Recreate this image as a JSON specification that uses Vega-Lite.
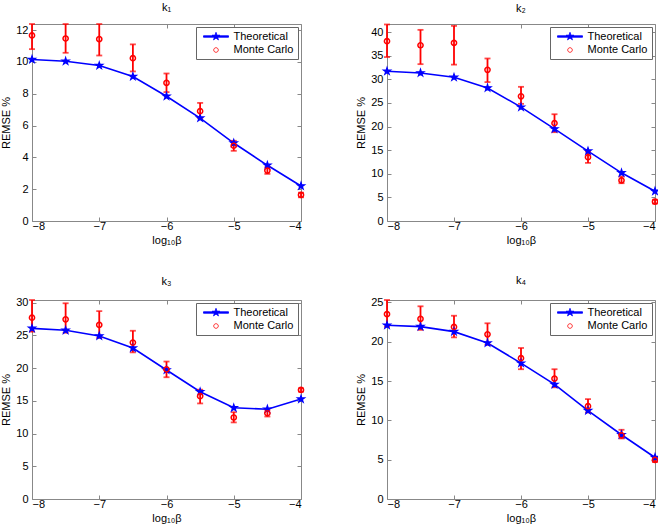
{
  "$schema": "https://vega.github.io/schema/vega-lite/v6.json",
  "background": "white",
  "padding": {"left": 0, "top": 1, "right": 3, "bottom": 2},
  "data": {"values": [
    {"panel":"k1","x":-8,"series":"Theoretical","value":10.15},
    {"panel":"k1","x":-7.5,"series":"Theoretical","value":10.04},
    {"panel":"k1","x":-7,"series":"Theoretical","value":9.77},
    {"panel":"k1","x":-6.5,"series":"Theoretical","value":9.08},
    {"panel":"k1","x":-6,"series":"Theoretical","value":7.84},
    {"panel":"k1","x":-5.5,"series":"Theoretical","value":6.47},
    {"panel":"k1","x":-5,"series":"Theoretical","value":4.9},
    {"panel":"k1","x":-4.5,"series":"Theoretical","value":3.5},
    {"panel":"k1","x":-4,"series":"Theoretical","value":2.2},
    {"panel":"k1","x":-8,"series":"Monte Carlo","value":11.66,"lo":10.8,"hi":12.38},
    {"panel":"k1","x":-7.5,"series":"Monte Carlo","value":11.47,"lo":10.57,"hi":12.38},
    {"panel":"k1","x":-7,"series":"Monte Carlo","value":11.43,"lo":10.4,"hi":12.38},
    {"panel":"k1","x":-6.5,"series":"Monte Carlo","value":10.23,"lo":9.4,"hi":11.1},
    {"panel":"k1","x":-6,"series":"Monte Carlo","value":8.68,"lo":8.1,"hi":9.27},
    {"panel":"k1","x":-5.5,"series":"Monte Carlo","value":6.9,"lo":6.47,"hi":7.42},
    {"panel":"k1","x":-5,"series":"Monte Carlo","value":4.73,"lo":4.41,"hi":5.04},
    {"panel":"k1","x":-4.5,"series":"Monte Carlo","value":3.17,"lo":2.96,"hi":3.38},
    {"panel":"k1","x":-4,"series":"Monte Carlo","value":1.64,"lo":1.49,"hi":1.78},

    {"panel":"k2","x":-8,"series":"Theoretical","value":31.7},
    {"panel":"k2","x":-7.5,"series":"Theoretical","value":31.34},
    {"panel":"k2","x":-7,"series":"Theoretical","value":30.42},
    {"panel":"k2","x":-6.5,"series":"Theoretical","value":28.16},
    {"panel":"k2","x":-6,"series":"Theoretical","value":24.1},
    {"panel":"k2","x":-5.5,"series":"Theoretical","value":19.5},
    {"panel":"k2","x":-5,"series":"Theoretical","value":14.8},
    {"panel":"k2","x":-4.5,"series":"Theoretical","value":10.2},
    {"panel":"k2","x":-4,"series":"Theoretical","value":6.3},
    {"panel":"k2","x":-8,"series":"Monte Carlo","value":38.06,"lo":34.7,"hi":41.6},
    {"panel":"k2","x":-7.5,"series":"Monte Carlo","value":37.2,"lo":33.2,"hi":40.46},
    {"panel":"k2","x":-7,"series":"Monte Carlo","value":37.7,"lo":33.1,"hi":41.3},
    {"panel":"k2","x":-6.5,"series":"Monte Carlo","value":32.0,"lo":29.4,"hi":34.4},
    {"panel":"k2","x":-6,"series":"Monte Carlo","value":26.4,"lo":24.8,"hi":28.4},
    {"panel":"k2","x":-5.5,"series":"Monte Carlo","value":20.7,"lo":18.8,"hi":22.6},
    {"panel":"k2","x":-5,"series":"Monte Carlo","value":13.5,"lo":12.3,"hi":14.7},
    {"panel":"k2","x":-4.5,"series":"Monte Carlo","value":8.6,"lo":8.0,"hi":9.4},
    {"panel":"k2","x":-4,"series":"Monte Carlo","value":4.1,"lo":3.7,"hi":4.5},

    {"panel":"k3","x":-8,"series":"Theoretical","value":26.07},
    {"panel":"k3","x":-7.5,"series":"Theoretical","value":25.77},
    {"panel":"k3","x":-7,"series":"Theoretical","value":24.9},
    {"panel":"k3","x":-6.5,"series":"Theoretical","value":23.06},
    {"panel":"k3","x":-6,"series":"Theoretical","value":19.7},
    {"panel":"k3","x":-5.5,"series":"Theoretical","value":16.38},
    {"panel":"k3","x":-5,"series":"Theoretical","value":13.93},
    {"panel":"k3","x":-4.5,"series":"Theoretical","value":13.72},
    {"panel":"k3","x":-4,"series":"Theoretical","value":15.26},
    {"panel":"k3","x":-8,"series":"Monte Carlo","value":27.7,"lo":25.56,"hi":30.4},
    {"panel":"k3","x":-7.5,"series":"Monte Carlo","value":27.45,"lo":25.4,"hi":29.9},
    {"panel":"k3","x":-7,"series":"Monte Carlo","value":26.6,"lo":24.6,"hi":28.7},
    {"panel":"k3","x":-6.5,"series":"Monte Carlo","value":23.9,"lo":22.4,"hi":25.7},
    {"panel":"k3","x":-6,"series":"Monte Carlo","value":19.8,"lo":18.6,"hi":21.0},
    {"panel":"k3","x":-5.5,"series":"Monte Carlo","value":15.7,"lo":14.6,"hi":16.7},
    {"panel":"k3","x":-5,"series":"Monte Carlo","value":12.45,"lo":11.7,"hi":13.26},
    {"panel":"k3","x":-4.5,"series":"Monte Carlo","value":13.1,"lo":12.6,"hi":13.6},
    {"panel":"k3","x":-4,"series":"Monte Carlo","value":16.66,"lo":16.4,"hi":16.9},

    {"panel":"k4","x":-8,"series":"Theoretical","value":22.09},
    {"panel":"k4","x":-7.5,"series":"Theoretical","value":21.92},
    {"panel":"k4","x":-7,"series":"Theoretical","value":21.28},
    {"panel":"k4","x":-6.5,"series":"Theoretical","value":19.83},
    {"panel":"k4","x":-6,"series":"Theoretical","value":17.27},
    {"panel":"k4","x":-5.5,"series":"Theoretical","value":14.57},
    {"panel":"k4","x":-5,"series":"Theoretical","value":11.24},
    {"panel":"k4","x":-4.5,"series":"Theoretical","value":8.17},
    {"panel":"k4","x":-4,"series":"Theoretical","value":5.28},
    {"panel":"k4","x":-8,"series":"Monte Carlo","value":23.5,"lo":21.9,"hi":25.3},
    {"panel":"k4","x":-7.5,"series":"Monte Carlo","value":22.9,"lo":21.5,"hi":24.5},
    {"panel":"k4","x":-7,"series":"Monte Carlo","value":21.87,"lo":20.55,"hi":23.3},
    {"panel":"k4","x":-6.5,"series":"Monte Carlo","value":20.94,"lo":19.6,"hi":22.34},
    {"panel":"k4","x":-6,"series":"Monte Carlo","value":17.9,"lo":16.5,"hi":19.2},
    {"panel":"k4","x":-5.5,"series":"Monte Carlo","value":15.3,"lo":14.2,"hi":16.5},
    {"panel":"k4","x":-5,"series":"Monte Carlo","value":11.8,"lo":11.0,"hi":12.7},
    {"panel":"k4","x":-4.5,"series":"Monte Carlo","value":8.1,"lo":7.7,"hi":8.8},
    {"panel":"k4","x":-4,"series":"Monte Carlo","value":4.98,"lo":4.7,"hi":5.2}
  ]},
  "columns": 2,
  "spacing": {"row": 79, "column": 86},
  "bounds": "flush",
  "resolve": {"scale": {"y": "independent", "shape": "independent", "fill": "independent", "stroke": "independent"}},
  "concat": [
    {
      "title": {"text": "k₁"},
      "width": 269, "height": 197,
      "transform": [{"filter": "datum.panel === 'k1'"}],
      "encoding": {
        "x": {"field": "x", "type": "quantitative", "title": "log₁₀β", "scale": {"domain": [-8, -4], "nice": false, "zero": false}, "axis": {"values": [-8, -7, -6, -5, -4], "format": "d"}},
        "y": {"field": "value", "type": "quantitative", "title": "REMSE %", "scale": {"domain": [0, 12.38], "nice": false, "zero": false}, "axis": {"values": [0, 2, 4, 6, 8, 10, 12]}}
      },
      "layer": [
        {"layer": [
          {"transform": [{"filter": "datum.series === 'Theoretical'"}], "mark": {"type": "line", "color": "#0000ff", "strokeWidth": 1.6}, "encoding": {}},
          {"transform": [{"filter": "datum.series === 'Monte Carlo'"}], "mark": {"type": "errorbar", "color": "#ff0000", "thickness": 1.8, "ticks": {"size": 6, "thickness": 1.8, "color": "#ff0000"}},
           "encoding": {"y": {"field": "lo", "type": "quantitative", "title": "REMSE %", "scale": {"domain": [0, 12.38], "nice": false, "zero": false}}, "y2": {"field": "hi"}}},
          {"transform": [{"filter": "datum.series === 'Theoretical'"}], "mark": {"type": "point", "shape": "M0,-1L0.2245,-0.309L0.9511,-0.309L0.3633,0.118L0.5878,0.809L0,0.382L-0.5878,0.809L-0.3633,0.118L-0.9511,-0.309L-0.2245,-0.309Z", "size": 55, "filled": true, "fill": "#0000ff", "stroke": "#0000ff", "strokeWidth": 1.2, "opacity": 1}, "encoding": {}},
          {"transform": [{"filter": "datum.series === 'Monte Carlo'"}], "mark": {"type": "point", "shape": "M0.7,0L0.647,0.268L0.495,0.495L0.268,0.647L0,0.7L-0.268,0.647L-0.495,0.495L-0.647,0.268L-0.7,0L-0.647,-0.268L-0.495,-0.495L-0.268,-0.647L0,-0.7L0.268,-0.647L0.495,-0.495L0.647,-0.268Z", "size": 55, "filled": false, "stroke": "#ff0000", "strokeWidth": 1.5, "opacity": 1}, "encoding": {}},
          {"transform": [{"filter": "datum.series === 'none'"}], "mark": {"type": "point", "size": 100, "strokeWidth": 0.8, "opacity": 1},
           "encoding": {
             "shape": {"field": "series", "type": "nominal", "scale": {"domain": ["Theoretical", "Monte Carlo"], "range": ["M-2.5,-0.15L2.5,-0.15L2.5,0.15L-2.5,0.15Z M0,-0.84L0.1886,-0.2596L0.799,-0.2596L0.3052,0.0991L0.4938,0.6796L0,0.3209L-0.4938,0.6796L-0.3052,0.0991L-0.799,-0.2596L-0.1886,-0.2596Z", "M0.46,0L0.425,0.176L0.325,0.325L0.176,0.425L0,0.46L-0.176,0.425L-0.325,0.325L-0.425,0.176L-0.46,0L-0.425,-0.176L-0.325,-0.325L-0.176,-0.425L0,-0.46L0.176,-0.425L0.325,-0.325L0.425,-0.176Z"]},
               "legend": {"title": null, "orient": "top-right", "offset": 3, "padding": 4, "strokeColor": "#666", "fillColor": "white", "symbolSize": 100, "symbolStrokeWidth": 0.8, "symbolOpacity": 1, "labelOffset": 12, "symbolOffset": 10.5, "rowPadding": 1.5, "labelFont": "Liberation Sans", "labelFontSize": 11, "labelColor": "#000", "labelLimit": 200}},
             "fill": {"field": "series", "type": "nominal", "scale": {"domain": ["Theoretical", "Monte Carlo"], "range": ["#0000ff", "transparent"]}},
             "stroke": {"field": "series", "type": "nominal", "scale": {"domain": ["Theoretical", "Monte Carlo"], "range": ["#0000ff", "#ff0000"]}}
           }}
        ]},
        {"transform": [{"filter": "datum.series === 'none'"}], "mark": {"type": "point", "opacity": 0},
         "encoding": {
           "x": {"field": "x", "type": "quantitative", "scale": {"domain": [-8, -4], "nice": false, "zero": false}, "axis": {"orient": "top", "labels": false, "title": null, "values": [-8, -7, -6, -5, -4]}},
           "y": {"field": "value", "type": "quantitative", "scale": {"domain": [0, 12.38], "nice": false, "zero": false}, "axis": {"orient": "right", "labels": false, "title": null, "values": [0, 2, 4, 6, 8, 10, 12]}}
         }}
      ],
      "resolve": {"axis": {"x": "independent", "y": "independent"}}
    },
    {
      "title": {"text": "k₂"},
      "width": 268, "height": 197,
      "transform": [{"filter": "datum.panel === 'k2'"}],
      "encoding": {
        "x": {"field": "x", "type": "quantitative", "title": "log₁₀β", "scale": {"domain": [-8, -4], "nice": false, "zero": false}, "axis": {"values": [-8, -7, -6, -5, -4], "format": "d"}},
        "y": {"field": "value", "type": "quantitative", "title": "REMSE %", "scale": {"domain": [0, 41.7], "nice": false, "zero": false}, "axis": {"values": [0, 5, 10, 15, 20, 25, 30, 35, 40]}}
      },
      "layer": [
        {"layer": [
          {"transform": [{"filter": "datum.series === 'Theoretical'"}], "mark": {"type": "line", "color": "#0000ff", "strokeWidth": 1.6}, "encoding": {}},
          {"transform": [{"filter": "datum.series === 'Monte Carlo'"}], "mark": {"type": "errorbar", "color": "#ff0000", "thickness": 1.8, "ticks": {"size": 6, "thickness": 1.8, "color": "#ff0000"}},
           "encoding": {"y": {"field": "lo", "type": "quantitative", "title": "REMSE %", "scale": {"domain": [0, 41.7], "nice": false, "zero": false}}, "y2": {"field": "hi"}}},
          {"transform": [{"filter": "datum.series === 'Theoretical'"}], "mark": {"type": "point", "shape": "M0,-1L0.2245,-0.309L0.9511,-0.309L0.3633,0.118L0.5878,0.809L0,0.382L-0.5878,0.809L-0.3633,0.118L-0.9511,-0.309L-0.2245,-0.309Z", "size": 55, "filled": true, "fill": "#0000ff", "stroke": "#0000ff", "strokeWidth": 1.2, "opacity": 1}, "encoding": {}},
          {"transform": [{"filter": "datum.series === 'Monte Carlo'"}], "mark": {"type": "point", "shape": "M0.7,0L0.647,0.268L0.495,0.495L0.268,0.647L0,0.7L-0.268,0.647L-0.495,0.495L-0.647,0.268L-0.7,0L-0.647,-0.268L-0.495,-0.495L-0.268,-0.647L0,-0.7L0.268,-0.647L0.495,-0.495L0.647,-0.268Z", "size": 55, "filled": false, "stroke": "#ff0000", "strokeWidth": 1.5, "opacity": 1}, "encoding": {}},
          {"transform": [{"filter": "datum.series === 'none'"}], "mark": {"type": "point", "size": 100, "strokeWidth": 0.8, "opacity": 1},
           "encoding": {
             "shape": {"field": "series", "type": "nominal", "scale": {"domain": ["Theoretical", "Monte Carlo"], "range": ["M-2.5,-0.15L2.5,-0.15L2.5,0.15L-2.5,0.15Z M0,-0.84L0.1886,-0.2596L0.799,-0.2596L0.3052,0.0991L0.4938,0.6796L0,0.3209L-0.4938,0.6796L-0.3052,0.0991L-0.799,-0.2596L-0.1886,-0.2596Z", "M0.46,0L0.425,0.176L0.325,0.325L0.176,0.425L0,0.46L-0.176,0.425L-0.325,0.325L-0.425,0.176L-0.46,0L-0.425,-0.176L-0.325,-0.325L-0.176,-0.425L0,-0.46L0.176,-0.425L0.325,-0.325L0.425,-0.176Z"]},
               "legend": {"title": null, "orient": "top-right", "offset": 3, "padding": 4, "strokeColor": "#666", "fillColor": "white", "symbolSize": 100, "symbolStrokeWidth": 0.8, "symbolOpacity": 1, "labelOffset": 12, "symbolOffset": 10.5, "rowPadding": 1.5, "labelFont": "Liberation Sans", "labelFontSize": 11, "labelColor": "#000", "labelLimit": 200}},
             "fill": {"field": "series", "type": "nominal", "scale": {"domain": ["Theoretical", "Monte Carlo"], "range": ["#0000ff", "transparent"]}},
             "stroke": {"field": "series", "type": "nominal", "scale": {"domain": ["Theoretical", "Monte Carlo"], "range": ["#0000ff", "#ff0000"]}}
           }}
        ]},
        {"transform": [{"filter": "datum.series === 'none'"}], "mark": {"type": "point", "opacity": 0},
         "encoding": {
           "x": {"field": "x", "type": "quantitative", "scale": {"domain": [-8, -4], "nice": false, "zero": false}, "axis": {"orient": "top", "labels": false, "title": null, "values": [-8, -7, -6, -5, -4]}},
           "y": {"field": "value", "type": "quantitative", "scale": {"domain": [0, 41.7], "nice": false, "zero": false}, "axis": {"orient": "right", "labels": false, "title": null, "values": [0, 5, 10, 15, 20, 25, 30, 35, 40]}}
         }}
      ],
      "resolve": {"axis": {"x": "independent", "y": "independent"}}
    },
    {
      "title": {"text": "k₃"},
      "width": 269, "height": 199,
      "transform": [{"filter": "datum.panel === 'k3'"}],
      "encoding": {
        "x": {"field": "x", "type": "quantitative", "title": "log₁₀β", "scale": {"domain": [-8, -4], "nice": false, "zero": false}, "axis": {"values": [-8, -7, -6, -5, -4], "format": "d"}},
        "y": {"field": "value", "type": "quantitative", "title": "REMSE %", "scale": {"domain": [0, 30.4], "nice": false, "zero": false}, "axis": {"values": [0, 5, 10, 15, 20, 25, 30]}}
      },
      "layer": [
        {"layer": [
          {"transform": [{"filter": "datum.series === 'Theoretical'"}], "mark": {"type": "line", "color": "#0000ff", "strokeWidth": 1.6}, "encoding": {}},
          {"transform": [{"filter": "datum.series === 'Monte Carlo'"}], "mark": {"type": "errorbar", "color": "#ff0000", "thickness": 1.8, "ticks": {"size": 6, "thickness": 1.8, "color": "#ff0000"}},
           "encoding": {"y": {"field": "lo", "type": "quantitative", "title": "REMSE %", "scale": {"domain": [0, 30.4], "nice": false, "zero": false}}, "y2": {"field": "hi"}}},
          {"transform": [{"filter": "datum.series === 'Theoretical'"}], "mark": {"type": "point", "shape": "M0,-1L0.2245,-0.309L0.9511,-0.309L0.3633,0.118L0.5878,0.809L0,0.382L-0.5878,0.809L-0.3633,0.118L-0.9511,-0.309L-0.2245,-0.309Z", "size": 55, "filled": true, "fill": "#0000ff", "stroke": "#0000ff", "strokeWidth": 1.2, "opacity": 1}, "encoding": {}},
          {"transform": [{"filter": "datum.series === 'Monte Carlo'"}], "mark": {"type": "point", "shape": "M0.7,0L0.647,0.268L0.495,0.495L0.268,0.647L0,0.7L-0.268,0.647L-0.495,0.495L-0.647,0.268L-0.7,0L-0.647,-0.268L-0.495,-0.495L-0.268,-0.647L0,-0.7L0.268,-0.647L0.495,-0.495L0.647,-0.268Z", "size": 55, "filled": false, "stroke": "#ff0000", "strokeWidth": 1.5, "opacity": 1}, "encoding": {}},
          {"transform": [{"filter": "datum.series === 'none'"}], "mark": {"type": "point", "size": 100, "strokeWidth": 0.8, "opacity": 1},
           "encoding": {
             "shape": {"field": "series", "type": "nominal", "scale": {"domain": ["Theoretical", "Monte Carlo"], "range": ["M-2.5,-0.15L2.5,-0.15L2.5,0.15L-2.5,0.15Z M0,-0.84L0.1886,-0.2596L0.799,-0.2596L0.3052,0.0991L0.4938,0.6796L0,0.3209L-0.4938,0.6796L-0.3052,0.0991L-0.799,-0.2596L-0.1886,-0.2596Z", "M0.46,0L0.425,0.176L0.325,0.325L0.176,0.425L0,0.46L-0.176,0.425L-0.325,0.325L-0.425,0.176L-0.46,0L-0.425,-0.176L-0.325,-0.325L-0.176,-0.425L0,-0.46L0.176,-0.425L0.325,-0.325L0.425,-0.176Z"]},
               "legend": {"title": null, "orient": "top-right", "offset": 3, "padding": 4, "strokeColor": "#666", "fillColor": "white", "symbolSize": 100, "symbolStrokeWidth": 0.8, "symbolOpacity": 1, "labelOffset": 12, "symbolOffset": 10.5, "rowPadding": 1.5, "labelFont": "Liberation Sans", "labelFontSize": 11, "labelColor": "#000", "labelLimit": 200}},
             "fill": {"field": "series", "type": "nominal", "scale": {"domain": ["Theoretical", "Monte Carlo"], "range": ["#0000ff", "transparent"]}},
             "stroke": {"field": "series", "type": "nominal", "scale": {"domain": ["Theoretical", "Monte Carlo"], "range": ["#0000ff", "#ff0000"]}}
           }}
        ]},
        {"transform": [{"filter": "datum.series === 'none'"}], "mark": {"type": "point", "opacity": 0},
         "encoding": {
           "x": {"field": "x", "type": "quantitative", "scale": {"domain": [-8, -4], "nice": false, "zero": false}, "axis": {"orient": "top", "labels": false, "title": null, "values": [-8, -7, -6, -5, -4]}},
           "y": {"field": "value", "type": "quantitative", "scale": {"domain": [0, 30.4], "nice": false, "zero": false}, "axis": {"orient": "right", "labels": false, "title": null, "values": [0, 5, 10, 15, 20, 25, 30]}}
         }}
      ],
      "resolve": {"axis": {"x": "independent", "y": "independent"}}
    },
    {
      "title": {"text": "k₄"},
      "width": 268, "height": 199,
      "transform": [{"filter": "datum.panel === 'k4'"}],
      "encoding": {
        "x": {"field": "x", "type": "quantitative", "title": "log₁₀β", "scale": {"domain": [-8, -4], "nice": false, "zero": false}, "axis": {"values": [-8, -7, -6, -5, -4], "format": "d"}},
        "y": {"field": "value", "type": "quantitative", "title": "REMSE %", "scale": {"domain": [0, 25.3], "nice": false, "zero": false}, "axis": {"values": [0, 5, 10, 15, 20, 25]}}
      },
      "layer": [
        {"layer": [
          {"transform": [{"filter": "datum.series === 'Theoretical'"}], "mark": {"type": "line", "color": "#0000ff", "strokeWidth": 1.6}, "encoding": {}},
          {"transform": [{"filter": "datum.series === 'Monte Carlo'"}], "mark": {"type": "errorbar", "color": "#ff0000", "thickness": 1.8, "ticks": {"size": 6, "thickness": 1.8, "color": "#ff0000"}},
           "encoding": {"y": {"field": "lo", "type": "quantitative", "title": "REMSE %", "scale": {"domain": [0, 25.3], "nice": false, "zero": false}}, "y2": {"field": "hi"}}},
          {"transform": [{"filter": "datum.series === 'Theoretical'"}], "mark": {"type": "point", "shape": "M0,-1L0.2245,-0.309L0.9511,-0.309L0.3633,0.118L0.5878,0.809L0,0.382L-0.5878,0.809L-0.3633,0.118L-0.9511,-0.309L-0.2245,-0.309Z", "size": 55, "filled": true, "fill": "#0000ff", "stroke": "#0000ff", "strokeWidth": 1.2, "opacity": 1}, "encoding": {}},
          {"transform": [{"filter": "datum.series === 'Monte Carlo'"}], "mark": {"type": "point", "shape": "M0.7,0L0.647,0.268L0.495,0.495L0.268,0.647L0,0.7L-0.268,0.647L-0.495,0.495L-0.647,0.268L-0.7,0L-0.647,-0.268L-0.495,-0.495L-0.268,-0.647L0,-0.7L0.268,-0.647L0.495,-0.495L0.647,-0.268Z", "size": 55, "filled": false, "stroke": "#ff0000", "strokeWidth": 1.5, "opacity": 1}, "encoding": {}},
          {"transform": [{"filter": "datum.series === 'none'"}], "mark": {"type": "point", "size": 100, "strokeWidth": 0.8, "opacity": 1},
           "encoding": {
             "shape": {"field": "series", "type": "nominal", "scale": {"domain": ["Theoretical", "Monte Carlo"], "range": ["M-2.5,-0.15L2.5,-0.15L2.5,0.15L-2.5,0.15Z M0,-0.84L0.1886,-0.2596L0.799,-0.2596L0.3052,0.0991L0.4938,0.6796L0,0.3209L-0.4938,0.6796L-0.3052,0.0991L-0.799,-0.2596L-0.1886,-0.2596Z", "M0.46,0L0.425,0.176L0.325,0.325L0.176,0.425L0,0.46L-0.176,0.425L-0.325,0.325L-0.425,0.176L-0.46,0L-0.425,-0.176L-0.325,-0.325L-0.176,-0.425L0,-0.46L0.176,-0.425L0.325,-0.325L0.425,-0.176Z"]},
               "legend": {"title": null, "orient": "top-right", "offset": 3, "padding": 4, "strokeColor": "#666", "fillColor": "white", "symbolSize": 100, "symbolStrokeWidth": 0.8, "symbolOpacity": 1, "labelOffset": 12, "symbolOffset": 10.5, "rowPadding": 1.5, "labelFont": "Liberation Sans", "labelFontSize": 11, "labelColor": "#000", "labelLimit": 200}},
             "fill": {"field": "series", "type": "nominal", "scale": {"domain": ["Theoretical", "Monte Carlo"], "range": ["#0000ff", "transparent"]}},
             "stroke": {"field": "series", "type": "nominal", "scale": {"domain": ["Theoretical", "Monte Carlo"], "range": ["#0000ff", "#ff0000"]}}
           }}
        ]},
        {"transform": [{"filter": "datum.series === 'none'"}], "mark": {"type": "point", "opacity": 0},
         "encoding": {
           "x": {"field": "x", "type": "quantitative", "scale": {"domain": [-8, -4], "nice": false, "zero": false}, "axis": {"orient": "top", "labels": false, "title": null, "values": [-8, -7, -6, -5, -4]}},
           "y": {"field": "value", "type": "quantitative", "scale": {"domain": [0, 25.3], "nice": false, "zero": false}, "axis": {"orient": "right", "labels": false, "title": null, "values": [0, 5, 10, 15, 20, 25]}}
         }}
      ],
      "resolve": {"axis": {"x": "independent", "y": "independent"}}
    }
  ],
  "config": {
    "font": "Liberation Sans",
    "view": {"stroke": "#888", "strokeWidth": 1},
    "axis": {"labelFont": "Liberation Sans", "labelFontSize": 11, "labelColor": "#000", "titleFont": "Liberation Sans", "titleFontSize": 11, "titleFontWeight": "normal", "titleColor": "#000", "domain": false, "ticks": true, "tickColor": "#888", "tickSize": -4, "grid": false},
    "axisX": {"labelPadding": 3, "titlePadding": 3},
    "axisY": {"labelPadding": 8, "titlePadding": 4},
    "title": {"font": "Liberation Sans", "fontSize": 11, "fontWeight": "normal", "color": "#000", "offset": 10}
  }
}
